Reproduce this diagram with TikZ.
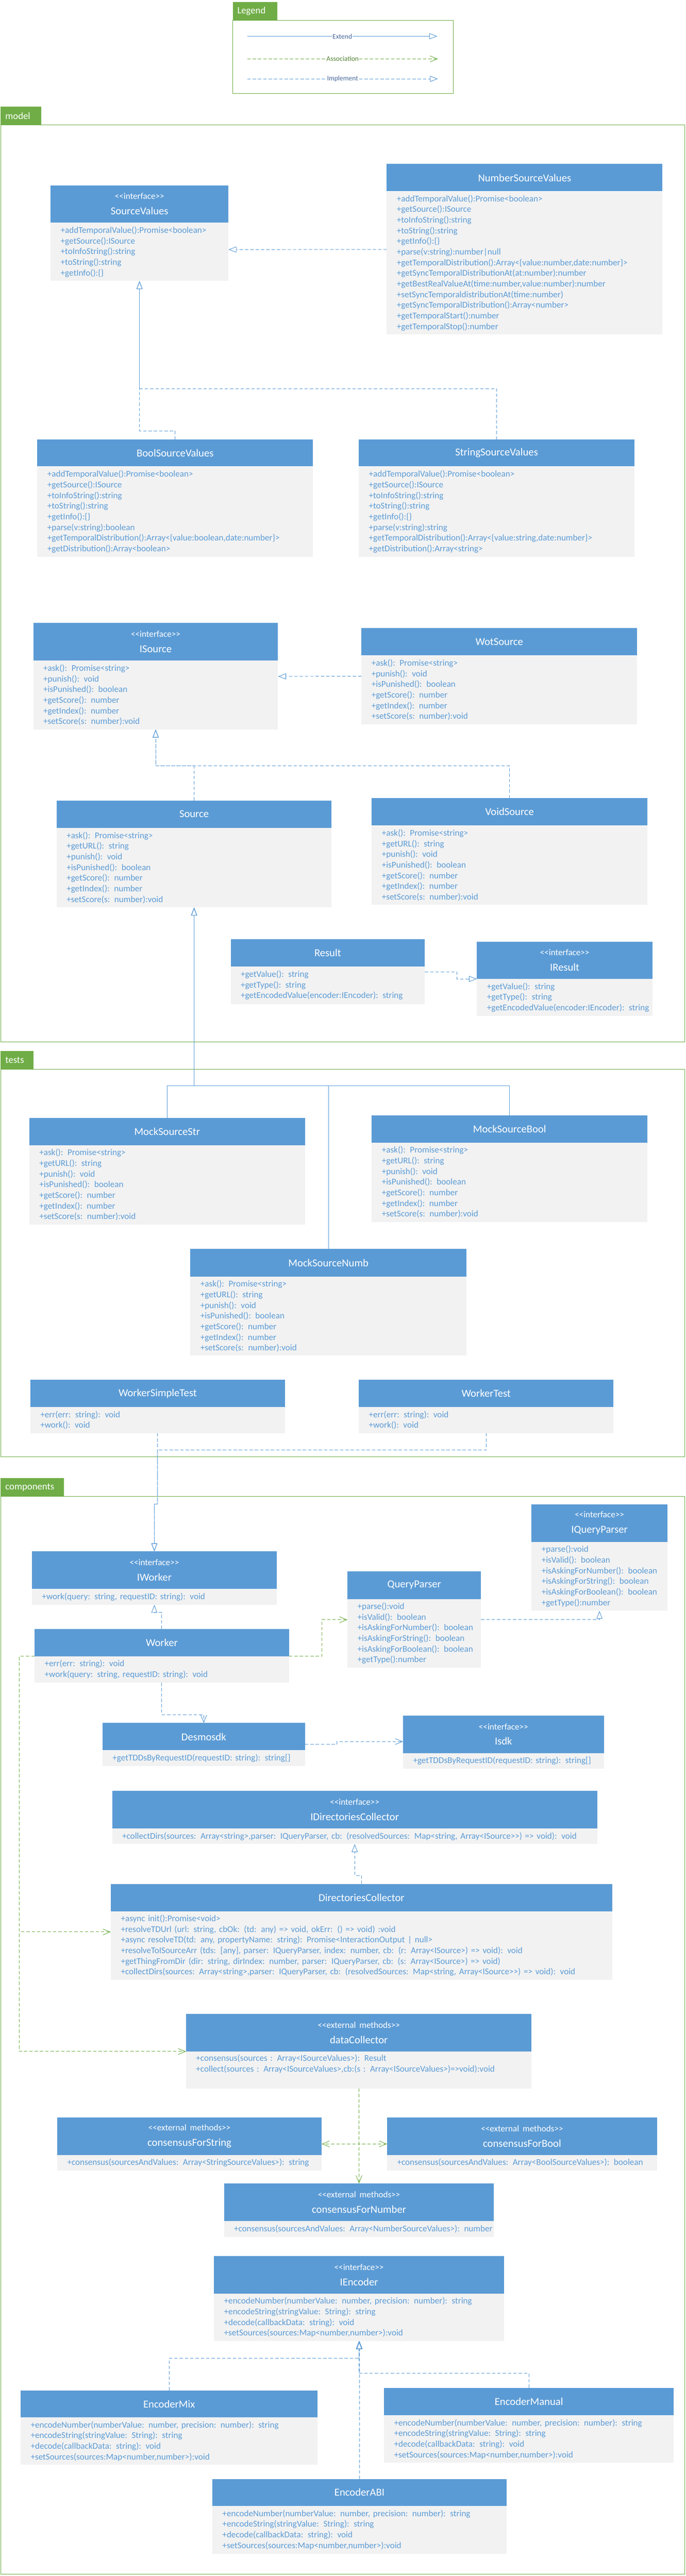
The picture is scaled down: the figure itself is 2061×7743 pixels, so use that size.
\documentclass[tikz,border=0pt]{standalone}
\usepackage{fontspec}
\newfontfamily\umlfont{Carlito}
\usetikzlibrary{arrows.meta}

\definecolor{umlblue}{HTML}{5B9BD5}
\definecolor{umlgray}{HTML}{F2F2F2}
\definecolor{umlgreen}{HTML}{70AD47}
\definecolor{lgdblue}{HTML}{4A6A9A}
\definecolor{lgdgreen}{HTML}{548235}

\newcommand{\stfont}{\fontsize{26.5}{32}\selectfont}
\newcommand{\ster}[1]{{\stfont <\kern0pt<#1>\kern0pt>}\\[5pt]}

\tikzset{
	hdr/.style={anchor=north west, fill=umlblue, text=white, inner sep=0pt, align=center, font=\umlfont\fontsize{32}{41}\selectfont},
	bdy/.style={anchor=north west, fill=umlgray, text=umlblue, inner sep=0pt, align=left, font=\umlfont\fontsize{26.5}{32}\selectfont, execute at begin node={\leftskip=30pt}},
	pkgtab/.style={anchor=north west, fill=umlgreen, text=white, inner sep=0pt, align=left, font=\umlfont\fontsize{29}{35}\selectfont, execute at begin node={\leftskip=14pt}},
	pkgframe/.style={draw=umlgreen, line width=1.5pt},
	extendarr/.style={draw=umlblue, line width=1.5pt, -{Triangle[open, length=24pt, width=18pt]}},
	implarr/.style={extendarr, dash pattern=on 10pt off 6pt},
	assocarr/.style={draw=umlgreen, line width=1.5pt, dash pattern=on 10pt off 6pt, -{Straight Barb[length=22pt, width=18pt]}},
	usearr/.style={assocarr, draw=umlblue},
	lgdlbl/.style={fill=white, inner xsep=2pt, inner ysep=1pt, font=\umlfont\fontsize{21}{25}\selectfont}
}

\begin{document}
\begin{tikzpicture}[x=1pt, y=-1pt]
		\fill [white]	(0, 0) rectangle (2061, 7743);
		\useasboundingbox	(0, 0) rectangle (2061, 7743);

		\draw [pkgframe]	(699, 61) rectangle (1362, 281);
		\draw [pkgframe]	(2, 376) rectangle (2058, 3132);
		\draw [pkgframe]	(2, 3214) rectangle (2058, 4378);
		\draw [pkgframe]	(2, 4498) rectangle (2058, 7737);
		\node [pkgtab, text width=134pt, minimum height=54pt] (legendT) at (699, 6) {Legend};
		\node [pkgtab, text width=122pt, minimum height=54pt] (modelT) at (2, 321) {model};
		\node [pkgtab, text width=99pt, minimum height=55pt] (testsT) at (2, 3159) {tests};
		\node [pkgtab, text width=190pt, minimum height=56pt] (compT) at (2, 4442) {components};

		\coordinate (extA) at (743, 109);
		\coordinate (extB) at (1314, 109);
		\coordinate (assA) at (743, 177);
		\coordinate (assB) at (1316, 177);
		\coordinate (impA) at (743, 237);
		\coordinate (impB) at (1316, 237);
		\draw [extendarr]	(extA) to node [lgdlbl, text=lgdblue]{Extend} (extB);
		\draw [assocarr]	(assA) to node [lgdlbl, text=lgdgreen]{Association} (assB);
		\draw [implarr]	(impA) to node [lgdlbl, text=lgdblue]{Implement} (impB);

		\node [hdr, text width=534pt, minimum height=112pt] (svalH) at (152, 557) {\ster{interface}SourceValues};
		\node [bdy, text width=534pt, minimum height=175pt] (sval) at (svalH.south west) {+addTemporalValue():Promise<boolean>\\+getSource():ISource\\+toInfoString():string\\+toString():string\\+getInfo():\{\}};

		\node [hdr, text width=828pt, minimum height=82pt] (nsvalH) at (1162, 493) {NumberSourceValues};
		\node [bdy, text width=828pt, minimum height=430pt] (nsval) at (nsvalH.south west) {+addTemporalValue():Promise<boolean>\\+getSource():ISource\\+toInfoString():string\\+toString():string\\+getInfo():\{\}\\+parse(v:string):number|null\\+getTemporalDistribution():Array<\{value:number,date:number\}>\\+getSyncTemporalDistributionAt(at:number):number\\+getBestRealValueAt(time:number,value:number):number\\+setSyncTemporaldistributionAt(time:number)\\+getSyncTemporalDistribution():Array<number>\\+getTemporalStart():number\\+getTemporalStop():number};

		\node [hdr, text width=828pt, minimum height=81pt] (bsvalH) at (112, 1321) {BoolSourceValues};
		\node [bdy, text width=828pt, minimum height=271pt] (bsval) at (bsvalH.south west) {+addTemporalValue():Promise<boolean>\\+getSource():ISource\\+toInfoString():string\\+toString():string\\+getInfo():\{\}\\+parse(v:string):boolean\\+getTemporalDistribution():Array<\{value:boolean,date:number\}>\\+getDistribution():Array<boolean>};

		\node [hdr, text width=828pt, minimum height=81pt] (ssvalH) at (1078, 1321) {StringSourceValues};
		\node [bdy, text width=828pt, minimum height=271pt] (ssval) at (ssvalH.south west) {+addTemporalValue():Promise<boolean>\\+getSource():ISource\\+toInfoString():string\\+toString():string\\+getInfo():\{\}\\+parse(v:string):string\\+getTemporalDistribution():Array<\{value:string,date:number\}>\\+getDistribution():Array<string>};

		\node [hdr, text width=735pt, minimum height=113pt] (isrcH) at (100, 1872) {\ster{interface}ISource};
		\node [bdy, text width=735pt, minimum height=207pt] (isrc) at (isrcH.south west) {+ask(): Promise<string>\\+punish(): void\\+isPunished(): boolean\\+getScore(): number\\+getIndex(): number\\+setScore(s: number):void};

		\node [hdr, text width=828pt, minimum height=83pt] (wotH) at (1086, 1887) {WotSource};
		\node [bdy, text width=828pt, minimum height=206pt] (wot) at (wotH.south west) {+ask(): Promise<string>\\+punish(): void\\+isPunished(): boolean\\+getScore(): number\\+getIndex(): number\\+setScore(s: number):void};

		\node [hdr, text width=826pt, minimum height=82pt] (srcH) at (170, 2406) {Source};
		\node [bdy, text width=826pt, minimum height=239pt] (src) at (srcH.south west) {+ask(): Promise<string>\\+getURL(): string\\+punish(): void\\+isPunished(): boolean\\+getScore(): number\\+getIndex(): number\\+setScore(s: number):void};

		\node [hdr, text width=828pt, minimum height=82pt] (vsrcH) at (1117, 2399) {VoidSource};
		\node [bdy, text width=828pt, minimum height=238pt] (vsrc) at (vsrcH.south west) {+ask(): Promise<string>\\+getURL(): string\\+punish(): void\\+isPunished(): boolean\\+getScore(): number\\+getIndex(): number\\+setScore(s: number):void};

		\node [hdr, text width=583pt, minimum height=82pt] (resH) at (693, 2823) {Result};
		\node [bdy, text width=583pt, minimum height=112pt] (res) at (resH.south west) {+getValue(): string\\+getType(): string\\+getEncodedValue(encoder:IEncoder): string};

		\node [hdr, text width=527pt, minimum height=112pt] (iresH) at (1433, 2830) {\ster{interface}IResult};
		\node [bdy, text width=527pt, minimum height=111pt] (ires) at (iresH.south west) {+getValue(): string\\+getType(): string\\+getEncodedValue(encoder:IEncoder): string};

		\node [hdr, text width=828pt, minimum height=82pt] (mstrH) at (88, 3360) {MockSourceStr};
		\node [bdy, text width=828pt, minimum height=238pt] (mstr) at (mstrH.south west) {+ask(): Promise<string>\\+getURL(): string\\+punish(): void\\+isPunished(): boolean\\+getScore(): number\\+getIndex(): number\\+setScore(s: number):void};

		\node [hdr, text width=828pt, minimum height=82pt] (mboolH) at (1117, 3352) {MockSourceBool};
		\node [bdy, text width=828pt, minimum height=238pt] (mbool) at (mboolH.south west) {+ask(): Promise<string>\\+getURL(): string\\+punish(): void\\+isPunished(): boolean\\+getScore(): number\\+getIndex(): number\\+setScore(s: number):void};

		\node [hdr, text width=829pt, minimum height=83pt] (mnumbH) at (572, 3754) {MockSourceNumb};
		\node [bdy, text width=829pt, minimum height=237pt] (mnumb) at (mnumbH.south west) {+ask(): Promise<string>\\+getURL(): string\\+punish(): void\\+isPunished(): boolean\\+getScore(): number\\+getIndex(): number\\+setScore(s: number):void};

		\node [hdr, text width=765pt, minimum height=82pt] (wstH) at (91, 4147) {WorkerSimpleTest};
		\node [bdy, text width=765pt, minimum height=78pt] (wst) at (wstH.south west) {+err(err: string): void\\+work(): void};

		\node [hdr, text width=765pt, minimum height=82pt] (wtH) at (1078, 4147) {WorkerTest};
		\node [bdy, text width=765pt, minimum height=78pt] (wt) at (wtH.south west) {+err(err: string): void\\+work(): void};

		\node [hdr, text width=735pt, minimum height=113pt] (iwrkH) at (96, 4663) {\ster{interface}IWorker};
		\node [bdy, text width=735pt, minimum height=47pt] (iwrk) at (iwrkH.south west) {+work(query: string, requestID: string): void};

		\node [hdr, text width=764pt, minimum height=82pt] (wrkH) at (104, 4896) {Worker};
		\node [bdy, text width=764pt, minimum height=79pt] (wrk) at (wrkH.south west) {+err(err: string): void\\+work(query: string, requestID: string): void};

		\node [hdr, text width=401pt, minimum height=83pt] (qpH) at (1044, 4723) {QueryParser};
		\node [bdy, text width=401pt, minimum height=206pt] (qp) at (qpH.south west) {+parse():void\\+isValid(): boolean\\+isAskingForNumber(): boolean\\+isAskingForString(): boolean\\+isAskingForBoolean(): boolean\\+getType():number};

		\node [hdr, text width=408pt, minimum height=113pt] (iqpH) at (1597, 4521) {\ster{interface}IQueryParser};
		\node [bdy, text width=408pt, minimum height=207pt] (iqp) at (iqpH.south west) {+parse():void\\+isValid(): boolean\\+isAskingForNumber(): boolean\\+isAskingForString(): boolean\\+isAskingForBoolean(): boolean\\+getType():number};

		\node [hdr, text width=608pt, minimum height=82pt] (dsdkH) at (308, 5179) {Desmosdk};
		\node [bdy, text width=608pt, minimum height=47pt] (dsdk) at (dsdkH.south west) {+getTDDsByRequestID(requestID: string): string[]};

		\node [hdr, text width=603pt, minimum height=113pt] (isdkH) at (1211, 5156) {\ster{interface}Isdk};
		\node [bdy, text width=603pt, minimum height=46pt] (isdk) at (isdkH.south west) {+getTDDsByRequestID(requestID: string): string[]};

		\node [hdr, text width=1457pt, minimum height=113pt] (idcH) at (337, 5383) {\ster{interface}IDirectoriesCollector};
		\node [bdy, text width=1457pt, minimum height=46pt] (idc) at (idcH.south west) {+collectDirs(sources: Array<string>,parser: IQueryParser, cb: (resolvedSources: Map<string, Array<ISource>\kern0pt>) => void): void};

		\node [hdr, text width=1506pt, minimum height=82pt] (dcH) at (333, 5663) {DirectoriesCollector};
		\node [bdy, text width=1506pt, minimum height=205pt] (dc) at (dcH.south west) {+async init():Promise<void>\\+resolveTDUrl (url: string, cbOk: (td: any) => void, okErr: () => void) :void\\+async resolveTD(td: any, propertyName: string): Promise<InteractionOutput | null>\\+resolveToISourceArr (tds: [any], parser: IQueryParser, index: number, cb: (r: Array<ISource>) => void): void\\+getThingFromDir (dir: string, dirIndex: number, parser: IQueryParser, cb: (s: Array<ISource>) => void)\\+collectDirs(sources: Array<string>,parser: IQueryParser, cb: (resolvedSources: Map<string, Array<ISource>\kern0pt>) => void): void};

		\node [hdr, text width=1038pt, minimum height=113pt] (datacH) at (559, 6053) {\ster{external methods}dataCollector};
		\node [bdy, text width=1038pt, minimum height=111pt] (datac) at (datacH.south west) {+consensus(sources : Array<ISourceValues>): Result\\+collect(sources : Array<ISourceValues>,cb:(s : Array<ISourceValues>)=>void):void\\\strut};

		\node [hdr, text width=794pt, minimum height=112pt] (cstrH) at (172, 6365) {\ster{external methods}consensusForString};
		\node [bdy, text width=794pt, minimum height=47pt] (cstr) at (cstrH.south west) {+consensus(sourcesAndValues: Array<StringSourceValues>): string};

		\node [hdr, text width=811pt, minimum height=112pt] (cboolH) at (1163, 6365) {\ster{external methods}consensusForBool};
		\node [bdy, text width=811pt, minimum height=47pt] (cbool) at (cboolH.south west) {+consensus(sourcesAndValues: Array<BoolSourceValues>): boolean};

		\node [hdr, text width=811pt, minimum height=113pt] (cnumH) at (673, 6563) {\ster{external methods}consensusForNumber};
		\node [bdy, text width=811pt, minimum height=47pt] (cnum) at (cnumH.south west) {+consensus(sourcesAndValues: Array<NumberSourceValues>): number};

		\node [hdr, text width=871pt, minimum height=113pt] (iencH) at (643, 6781) {\ster{interface}IEncoder};
		\node [bdy, text width=871pt, minimum height=142pt] (ienc) at (iencH.south west) {+encodeNumber(numberValue: number, precision: number): string\\+encodeString(stringValue: String): string\\+decode(callbackData: string): void\\+setSources(sources:Map<number,number>):void};

		\node [hdr, text width=892pt, minimum height=81pt] (emixH) at (62, 7185) {EncoderMix};
		\node [bdy, text width=892pt, minimum height=142pt] (emix) at (emixH.south west) {+encodeNumber(numberValue: number, precision: number): string\\+encodeString(stringValue: String): string\\+decode(callbackData: string): void\\+setSources(sources:Map<number,number>):void};

		\node [hdr, text width=870pt, minimum height=83pt] (emanH) at (1154, 7177) {EncoderManual};
		\node [bdy, text width=870pt, minimum height=142pt] (eman) at (emanH.south west) {+encodeNumber(numberValue: number, precision: number): string\\+encodeString(stringValue: String): string\\+decode(callbackData: string): void\\+setSources(sources:Map<number,number>):void};

		\node [hdr, text width=884pt, minimum height=81pt] (eabiH) at (638, 7451) {EncoderABI};
		\node [bdy, text width=884pt, minimum height=143pt] (eabi) at (eabiH.south west) {+encodeNumber(numberValue: number, precision: number): string\\+encodeString(stringValue: String): string\\+decode(callbackData: string): void\\+setSources(sources:Map<number,number>):void};

		\draw [implarr]	([yshift=41pt]nsval.west) to ([yshift=7pt]sval.east);
		\draw [implarr]	(bsvalH.north) -- ++(0, -26) -| (sval.south);
		\draw [implarr]	(ssvalH.north) -- ++(0, -153) -| (sval.south);

		\draw [implarr]	([yshift=41pt]wot.west) to ([yshift=56pt]isrc.east);
		\draw [implarr]	(srcH.north) -- ++(0, -104) -| (isrc.south);
		\draw [implarr]	(vsrcH.north) -- ++(0, -97) -| (isrc.south);

		\draw [implarr]	([yshift=41pt]res.east) -- ++(96, 0) |- (ires.north west);

		\draw [extendarr]	(mstrH.north) -- ++(0, -96) -| (src.south);
		\draw [extendarr]	(mboolH.north) -- ++(0, -88) -| (src.south);
		\draw [extendarr]	(mnumbH.north) -- ++(0, -490) -| (src.south);

		\draw [implarr]	(wst.south) -- ++(0, 214) -| (iwrkH.north);
		\draw [implarr]	(wt.south) -- ++(0, 51) -- ++(-987, 0) -- ++(0, 163) -| (iwrkH.north);
		\draw [implarr]	(wrkH.north) -- ++(0, -49) -| (iwrk.south);

		\draw [assocarr]	(wrkH.south east) -- ++(98, 0) |- ([yshift=41pt]qp.west);
		\draw [implarr]	([yshift=41pt]qp.east) -| (iqp.south);
		\draw [usearr]	(wrk.south) -- ++(0, 96) -| (dsdkH.north);
		\draw [usearr]	([yshift=-23pt]dsdkH.east) -- ++(96, 0) |- ([yshift=-22pt]isdkH.west);

		\draw [implarr]	(dcH.north) -- ++(0, -26) -| (idc.south);
		\draw [assocarr]	(wrkH.south west) -- ++(-46, 0) |- ([yshift=41pt]dc.west);
		\draw [assocarr]	(wrkH.south west) -- ++(-46, 0) |- (datacH.south west);

		\draw [assocarr]	(datac.south) to (cnumH.north);
		\draw [assocarr]	(datac.south) |- ([yshift=-23pt]cstrH.east);
		\draw [assocarr]	(datac.south) |- ([yshift=-23pt]cboolH.west);

		\draw [implarr]	(emixH.north) -- ++(0, -97) -| (ienc.south);
		\draw [implarr]	(emanH.north) -- ++(0, -43) -| (ienc.south);
		\draw [implarr]	(eabiH.north) to (eabiH.north |- ienc.south);
\end{tikzpicture}
\end{document}
